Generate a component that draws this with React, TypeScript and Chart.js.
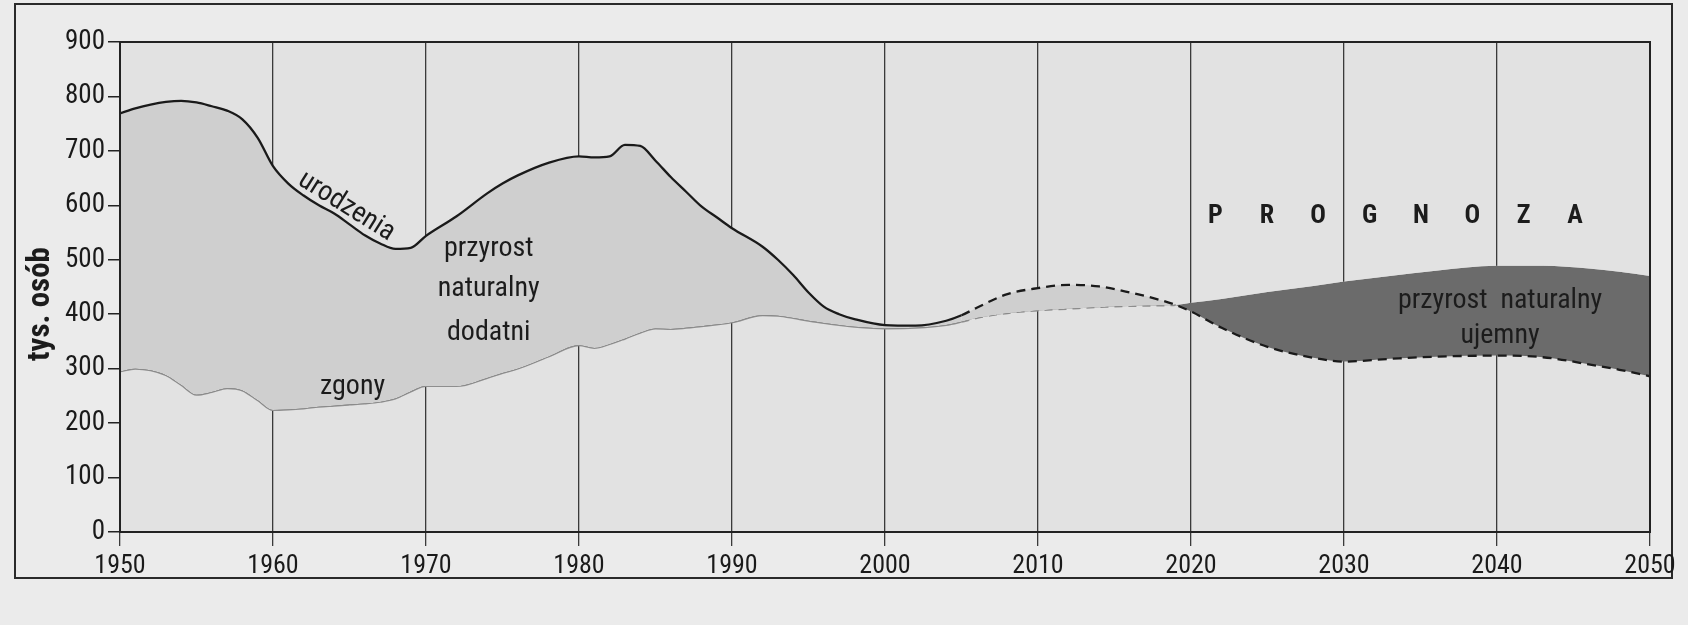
import React, { useEffect, useRef } from "react";
import { Chart, registerables } from "chart.js";

Chart.register(...registerables);

// ---- data (thousands of persons) ----
const years = [
  1950, 1951, 1952, 1953, 1954, 1955, 1956, 1957, 1958, 1959, 1960, 1961, 1962, 1963, 1964, 1965, 1966, 1967,
  1968, 1969, 1970, 1972, 1974, 1975, 1976, 1978, 1980, 1981, 1982, 1983, 1984, 1985, 1986, 1987, 1988, 1989,
  1990, 1992, 1993, 1994, 1995, 1996, 1997, 1998, 2000, 2002, 2004, 2005, 2006, 2008, 2010, 2012, 2014, 2016,
  2018, 2019, 2020, 2022, 2025, 2028, 2030, 2033, 2036, 2040, 2043, 2046, 2048, 2050,
];

const births = [
  769, 778, 785, 790, 792, 789, 782, 774, 758, 724, 672, 640, 618, 600, 585, 565, 545, 530,
  520, 522, 544, 580, 622, 640, 655, 678, 690, 688, 690, 711, 709, 682, 652, 625, 598, 578,
  558, 524, 500, 472, 440, 414, 400, 391, 380, 379, 388, 398, 412, 437, 448, 454, 451, 440,
  426, 417, 405, 375, 340, 320, 313, 318, 322, 324, 321, 308, 298, 286,
];

const deaths = [
  295, 300, 297, 288, 270, 252, 257, 264, 260, 242, 224, 225, 227, 230, 232, 234, 236, 239,
  245, 258, 268, 268, 283, 292, 300, 322, 343, 338, 345, 355, 366, 374, 373, 375, 378, 381,
  385, 398, 397, 393, 388, 384, 380, 377, 374, 375, 380, 386, 393, 402, 407, 410, 413, 415,
  416, 417, 421, 428, 441, 452, 460, 470, 480, 489, 489, 484, 478, 470,
];

const forecastFromYear = 2005;
const deathsLineUntilYear = 2019;

const yMin = 0;
const yMax = 900;
const yStep = 100;
const xMin = 1950;
const xMax = 2050;
const xStep = 10;

const axisTitle = "tys. osób";
const labelBirths = "urodzenia";
const labelDeaths = "zgony";
const labelPositive = ["przyrost", "naturalny", "dodatni"];
const labelNegative = ["przyrost  naturalny", "ujemny"];
const labelForecast = "PROGNOZA";

const FAMILY = "Roboto, 'DejaVu Sans Condensed', sans-serif";
const COND = "condensed";

export default function App() {
  const ref = useRef<HTMLCanvasElement | null>(null);

  useEffect(() => {
    const canvas = ref.current;
    if (!canvas) return;

    const decor = {
      id: "decor",
      beforeDraw(chart: any) {
        const { ctx, chartArea: a } = chart;
        ctx.save();
        ctx.fillStyle = "#ebebeb";
        ctx.fillRect(0, 0, chart.width, chart.height);
        ctx.fillStyle = "#e2e2e2";
        ctx.fillRect(a.left, a.top, a.right - a.left, a.bottom - a.top);
        ctx.strokeStyle = "#2a2a2a";
        ctx.lineWidth = 2;
        ctx.strokeRect(15, 4, 1657, 574);
        ctx.restore();
      },
      afterDraw(chart: any) {
        const { ctx, chartArea: a } = chart;
        const xs = chart.scales.x;
        const ys = chart.scales.y;
        ctx.save();
        ctx.strokeStyle = "#222";
        ctx.lineWidth = 2;
        ctx.strokeRect(a.left, a.top, a.right - a.left, a.bottom - a.top);

        ctx.fillStyle = "#1c1c1c";
        ctx.textAlign = "center";
        ctx.textBaseline = "middle";
        const txt = (s: string, yr: number, v: number, font: string, rot = 0) => {
          ctx.save();
          ctx.translate(xs.getPixelForValue(yr), ys.getPixelForValue(v));
          ctx.rotate((rot * Math.PI) / 180);
          ctx.font = font;
          ctx.fillText(s, 0, 0);
          ctx.restore();
        };
        const f28 = `${COND} 28px ${FAMILY}`;
        txt(labelBirths, 1964.8, 598, f28, 32);
        txt(labelDeaths, 1965.2, 266, f28);
        txt(labelPositive[0], 1974.1, 520, f28);
        txt(labelPositive[1], 1974.1, 446, f28);
        txt(labelPositive[2], 1974.1, 366, f28);
        txt(labelNegative[0], 2040.2, 425, f28);
        txt(labelNegative[1], 2040.2, 360, f28);

        const letters = labelForecast.split("");
        const startYr = 2021.6;
        const endYr = 2045.1;
        letters.forEach((ch, i) => {
          const yr = startYr + ((endYr - startYr) * i) / (letters.length - 1);
          txt(ch, yr, 580, `bold ${COND} 26px ${FAMILY}`);
        });

        ctx.save();
        ctx.translate(41, 304);
        ctx.rotate(-Math.PI / 2);
        ctx.font = `bold ${COND} 31px ${FAMILY}`;
        ctx.fillText(axisTitle, 0, 0);
        ctx.restore();
        ctx.restore();
      },
    };

    const chart = new Chart(canvas, {
      type: "line",
      data: {
        datasets: [
          {
            label: "urodzenia",
            data: years.map((y, i) => ({ x: y, y: births[i] })),
            borderColor: "#1a1a1a",
            borderWidth: 2.3,
            pointRadius: 0,
            cubicInterpolationMode: "monotone",
            fill: { target: 1, above: "#cfcfcf", below: "#6b6b6b" },
            segment: {
              borderDash: (c: any) => (c.p0.parsed.x >= forecastFromYear ? [9, 6] : undefined),
            },
          },
          {
            label: "zgony",
            data: years.map((y, i) => ({ x: y, y: deaths[i] })),
            borderColor: "#8e8e8e",
            borderWidth: 2,
            pointRadius: 0,
            cubicInterpolationMode: "monotone",
            fill: false,
            segment: {
              borderDash: (c: any) => (c.p0.parsed.x >= forecastFromYear ? [8, 6] : undefined),
              borderColor: (c: any) => (c.p0.parsed.x >= deathsLineUntilYear ? "rgba(0,0,0,0)" : undefined),
            },
          },
        ],
      },
      options: {
        animation: false,
        responsive: false,
        devicePixelRatio: 1,
        layout: { padding: { top: 42, right: 38, left: 0, bottom: 0 } },
        plugins: { legend: { display: false }, tooltip: { enabled: false } },
        scales: {
          x: {
            type: "linear",
            min: xMin,
            max: xMax,
            afterFit: (s: any) => {
              s.height = 93;
            },
            ticks: {
              stepSize: xStep,
              autoSkip: false,
              maxRotation: 0,
              padding: 5,
              color: "#1a1a1a",
              font: { family: FAMILY, size: 26, weight: COND },
              callback: (v: any) => String(v),
            },
            grid: {
              display: true,
              drawOnChartArea: true,
              drawTicks: true,
              tickLength: 14,
              color: "#3a3a3a",
              lineWidth: 1.3,
            },
            border: { display: true, width: 2, color: "#222" },
          },
          y: {
            min: yMin,
            max: yMax,
            afterFit: (s: any) => {
              s.width = 120;
            },
            ticks: {
              stepSize: yStep,
              autoSkip: false,
              padding: 3,
              color: "#1a1a1a",
              font: { family: FAMILY, size: 27, weight: COND },
              callback: (v: any) => String(v),
            },
            grid: {
              display: true,
              drawOnChartArea: false,
              drawTicks: true,
              tickLength: 12,
              color: "#222",
              lineWidth: 1.5,
            },
            border: { display: true, width: 2, color: "#222" },
          },
        },
      },
      plugins: [decor],
    } as any);

    return () => chart.destroy();
  }, []);

  return (
    <div style={{ position: "absolute", left: 0, top: 0, width: 1688, height: 625, background: "#ebebeb" }}>
      <canvas ref={ref} width={1688} height={625} style={{ width: 1688, height: 625, display: "block" }} />
    </div>
  );
}
